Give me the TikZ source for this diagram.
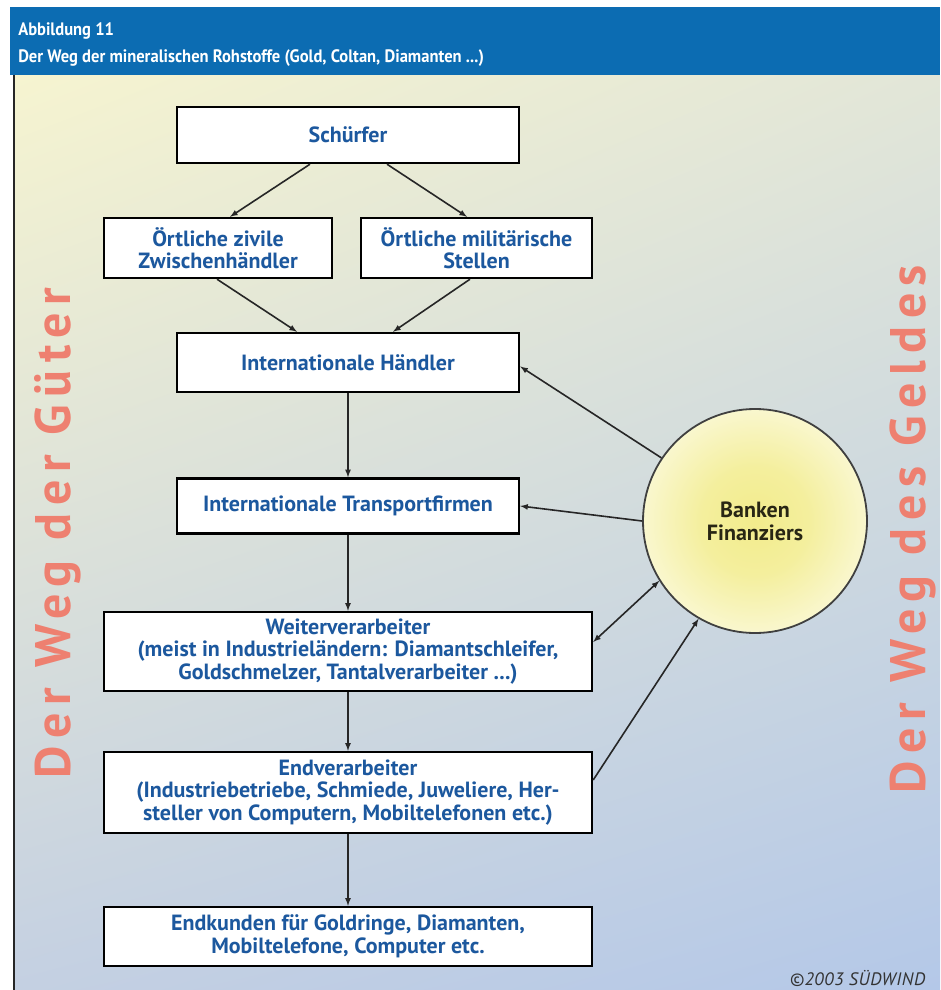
\documentclass[tikz,border=0pt]{standalone}
\usepackage{fontspec}
\setmainfont{PT Sans}
\newfontfamily\wegfont[LetterSpace=15]{PT Sans}
\newfontfamily\copyfont[LetterSpace=3]{PT Sans}
\usetikzlibrary{shadings}

\definecolor{headblue}{RGB}{12,108,178}
\definecolor{textblue}{RGB}{28,88,158}
\definecolor{wegred}{RGB}{238,128,112}
\definecolor{bankdark}{RGB}{40,38,20}
\definecolor{glowyellow}{RGB}{242,236,140}
\definecolor{bgUL}{RGB}{246,244,208}
\definecolor{bgUR}{RGB}{226,230,216}
\definecolor{bgLL}{RGB}{196,208,226}
\definecolor{bgLR}{RGB}{180,200,232}

\pgfdeclareradialshading{bankglow}{\pgfpoint{0bp}{0bp}}{color(0bp)=(glowyellow); color(12bp)=(glowyellow!85!white); color(38bp)=(white); color(50bp)=(white)}

\tikzset{
  box/.style={draw=black, line width=2.4pt, fill=white, text=textblue, align=center,
    font=\fontsize{22}{22.5}\selectfont\bfseries, inner sep=0pt},
  flow/.style={>=latex, ->, line width=1.6pt, draw=black!85},
  weg/.style={text=wegred, font=\fontsize{50}{50}\selectfont\wegfont\bfseries, rotate=90, anchor=base},
  headline/.style={anchor=base west, text=white, font=\fontsize{18}{18}\selectfont\bfseries, xscale=.92, transform shape}
}

\begin{document}
\begin{tikzpicture}[x=1pt,y=-1pt]
\useasboundingbox (0,0) rectangle (940,990);
% background and title bar
\shade[upper left=bgUL, upper right=bgUR, lower left=bgLL, lower right=bgLR] (14,75) rectangle (940,990);
\fill[headblue] (10,7) rectangle (940,75);
\draw[line width=2.5pt, black!85] (14,75) -- (14,990);
\node[headline] (title1) at (15,36) {Abbildung 11};
\node[headline] (title2) at (15,63) {Der Weg der mineralischen Rohstoffe (Gold, Coltan, Diamanten ...)};

% boxes
\node[box, minimum width=342pt, minimum height=56pt] (schuerfer) at (348,135) {Schürfer};
\node[box, minimum width=228pt, minimum height=60pt] (zivile) at (218,248) {Örtliche zivile\\Zwischenhändler};
\node[box, minimum width=231pt, minimum height=60pt] (militaer) at (476.5,248) {Örtliche militärische\\Stellen};
\node[box, minimum width=342pt, minimum height=59pt] (haendler) at (348,362.5) {Internationale Händler};
\node[box, minimum width=342pt, minimum height=55pt] (transport) at (348,506) {Internationale Transportfirmen};
\node[box, minimum width=488pt, minimum height=79pt] (weiter) at (348,651.5) {Weiterverarbeiter\\(meist in Industrieländern: Diamantschleifer,\\Goldschmelzer, Tantalverarbeiter ...)};
\node[box, minimum width=488pt, minimum height=81pt] (endver) at (348,792.5) {Endverarbeiter\\(Industriebetriebe, Schmiede, Juweliere, Her-\\steller von Computern, Mobiltelefonen etc.)};
\node[box, minimum width=488pt, minimum height=59pt] (endkunden) at (348,936.5) {Endkunden für Goldringe, Diamanten,\\Mobiltelefone, Computer etc.};

\node[circle, draw=black!75, line width=1.8pt, shading=bankglow, minimum size=224pt, inner sep=0pt,
  align=center, text=bankdark, font=\fontsize{22}{23}\selectfont\bfseries] (bank) at (755,521) {Banken\\Finanziers};

% goods
\draw[flow] ([xshift=-38pt]schuerfer.south) -- ([xshift=12pt]zivile.north);
\draw[flow] ([xshift=39pt]schuerfer.south) -- ([xshift=-9.5pt]militaer.north);
\draw[flow] ([xshift=-1pt]zivile.south) -- ([xshift=-51pt]haendler.north);
\draw[flow] ([xshift=-6.5pt]militaer.south) -- ([xshift=45pt]haendler.north);
\draw[flow] (haendler) -- (transport);
\draw[flow] (transport) -- (weiter);
\draw[flow] (weiter) -- (endver);
\draw[flow] (endver) -- (endkunden);

% money
\draw[flow] (bank.146) -- ([yshift=-4pt]haendler.east);
\draw[flow] (bank.180) -- (transport.east);
\draw[flow, <->] ([yshift=9.5pt]weiter.east) -- (bank.212);
\draw[flow] ([yshift=12.5pt]endver.east) -- (bank.240);

% side labels
\node[weg] (gueter) at (70,533) {Der Weg der Güter};
\node[weg] (geld) at (925,529) {Der Weg des Geldes};
\node[anchor=base west, text=black!80, font=\fontsize{18}{18}\selectfont\copyfont\itshape] (copy) at (786,985) {©2003 SÜDWIND};
\end{tikzpicture}
\end{document}
